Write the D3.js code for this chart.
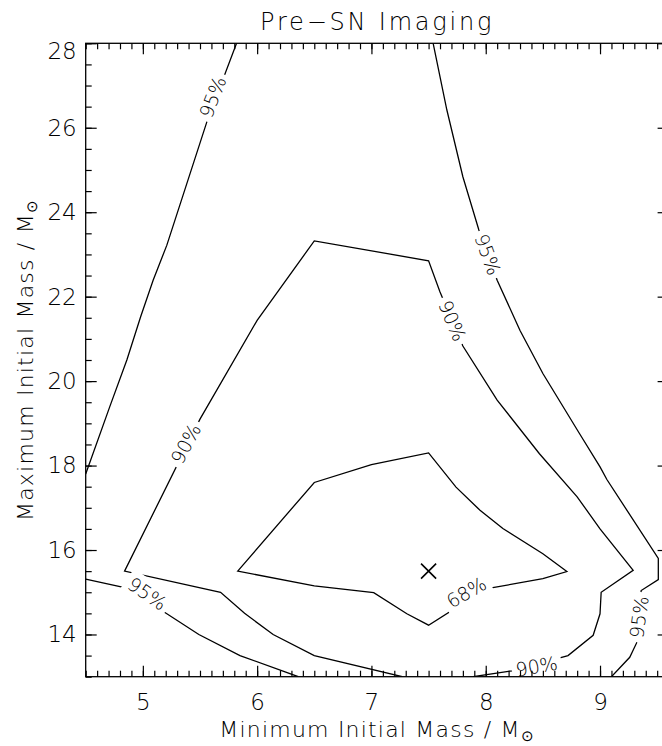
<!DOCTYPE html>
<html>
<head>
<meta charset="utf-8">
<script src="https://cdn.jsdelivr.net/npm/d3@7"></script>
<style>
  body { margin: 0; background: #fff; }
  text { font-family: "DejaVu Sans", sans-serif; font-weight: 300; fill: #000; }
</style>
</head>
<body>
<script>
// axis ranges and ticks
var xDomain = [4.5, 9.6];
var yDomain = [13, 28];
var xMajor = [5, 6, 7, 8, 9];
var yMajor = [14, 16, 18, 20, 22, 24, 26, 28];

// best fit marker
var bestFit = [7.5, 15.5];

// confidence contours, [min mass, max mass]
var contour68 = [[5.83, 15.5], [6.5, 17.6], [7.0, 18.02], [7.5, 18.3], [7.74, 17.49], [7.95, 16.94],
    [8.15, 16.51], [8.5, 15.91], [8.71, 15.49], [8.5, 15.32], [8.0, 15.08], [7.5, 14.22],
    [7.31, 14.49], [7.02, 14.99], [6.5, 15.15]];

var contour90 = [[7.27, 13.0], [6.5, 13.5], [6.14, 14.0], [5.89, 14.5], [5.68, 15.0], [4.84, 15.5],
    [5.5, 19.1], [6.0, 21.44], [6.5, 23.32], [7.5, 22.85], [7.6, 22.11], [7.8, 20.83], [8.1, 19.55],
    [8.47, 18.28], [8.8, 17.26], [9.0, 16.5], [9.29, 15.52], [9.01, 15.0], [9.0, 14.49], [8.94, 13.98],
    [8.72, 13.5], [8.23, 13.14], [7.89, 13.0]];

var contour95Left = [[4.5, 17.8], [4.71, 19.39], [4.86, 20.5], [4.98, 21.52], [5.09, 22.39],
    [5.21, 23.22], [5.56, 26.14], [5.82, 28.0]];

var contour95Right = [[7.54, 28.0], [7.66, 26.42], [7.8, 24.84], [7.94, 23.58], [8.1, 22.39],
    [8.3, 21.2], [8.5, 20.18], [8.82, 18.76], [9.0, 17.97], [9.06, 17.67], [9.51, 15.8], [9.51, 15.3],
    [9.36, 15.04], [9.32, 13.8], [9.26, 13.46], [9.1, 13.0]];

var contour95Low = [[4.5, 15.31], [4.84, 15.11], [5.0, 14.85], [5.21, 14.49], [5.49, 14.0],
    [5.85, 13.5], [6.36, 13.0]];

// contour labels: text, position, angle
var labelText = ['68%', '90%', '90%', '90%', '95%', '95%', '95%', '95%'];
var labelPos = [[7.83, 15.0], [5.375, 18.52], [7.71, 21.43], [8.445, 13.25], [5.61, 26.73], [8.02, 23.0], [5.04, 14.97], [9.34, 14.41]];
var labelAngle = [-30, -62, 67, -10, -69, 70, 35, -82];

var width = 662, height = 746;
var plotLeft = 85.7, plotRight = 668.6, plotTop = 43.3, plotBottom = 676.7;

var svg = d3.select('body').append('svg')
    .attr('width', width)
    .attr('height', height);

var x = d3.scaleLinear().domain(xDomain).range([plotLeft, plotRight]);
var y = d3.scaleLinear().domain(yDomain).range([plotBottom, plotTop]);

svg.append('clipPath').attr('id', 'plotclip')
    .append('rect')
    .attr('x', plotLeft).attr('y', plotTop)
    .attr('width', plotRight - plotLeft).attr('height', plotBottom - plotTop);

var plot = svg.append('g').attr('clip-path', 'url(#plotclip)');

var line = d3.line()
    .x(d => x(d[0]))
    .y(d => y(d[1]));

var closedLine = d3.line()
    .x(d => x(d[0]))
    .y(d => y(d[1]))
    .curve(d3.curveLinearClosed);

plot.append('path').attr('d', closedLine(contour68));
[contour90, contour95Left, contour95Right, contour95Low].forEach(c => {
    plot.append('path').attr('d', line(c));
});
plot.selectAll('path')
    .attr('fill', 'none')
    .attr('stroke', '#000')
    .attr('stroke-width', 1.3);

// labels break the line with a white box behind them
labelText.forEach((t, i) => {
    var g = plot.append('g')
        .attr('transform', 'translate(' + x(labelPos[i][0]) + ',' + y(labelPos[i][1]) + ') rotate(' + labelAngle[i] + ')');
    var bg = g.append('rect').attr('fill', '#fff');
    var txt = g.append('text')
        .attr('text-anchor', 'middle')
        .attr('dominant-baseline', 'central')
        .style('font-size', '19px')
        .text(t);
    var bb = txt.node().getBBox();
    bg.attr('x', bb.x - 4).attr('y', -13)
        .attr('width', bb.width + 8).attr('height', 26);
});

svg.append('path')
    .attr('d', d3.symbol(d3.symbolTimes, 150)())
    .attr('transform', 'translate(' + x(bestFit[0]) + ',' + y(bestFit[1]) + ')')
    .attr('fill', 'none')
    .attr('stroke', '#000')
    .attr('stroke-width', 1.6);

// axes, ticks pointing inward
var xMinor = d3.range(45, 97).map(v => v / 10);
var yMinor = d3.range(26, 57).map(v => v / 2);

function drawAxis(axis, pos, showLabels) {
    var g = svg.append('g').attr('transform', pos).call(axis);
    g.select('.domain').remove();
    g.selectAll('line').attr('stroke', '#000').attr('stroke-width', 1.2);
    if (!showLabels) g.selectAll('text').remove();
    return g;
}

drawAxis(d3.axisBottom(x).tickValues(xMinor).tickSize(-6).tickFormat(''), 'translate(0,' + plotBottom + ')', false);
drawAxis(d3.axisTop(x).tickValues(xMinor).tickSize(-6).tickFormat(''), 'translate(0,' + plotTop + ')', false);
drawAxis(d3.axisLeft(y).tickValues(yMinor).tickSize(-6).tickFormat(''), 'translate(' + plotLeft + ',0)', false);
drawAxis(d3.axisRight(y).tickValues(yMinor).tickSize(-6).tickFormat(''), 'translate(' + plotRight + ',0)', false);

var xAxis = drawAxis(d3.axisBottom(x).tickValues(xMajor).tickSize(-11).tickPadding(17).tickFormat(d3.format('d')),
    'translate(0,' + plotBottom + ')', true);
drawAxis(d3.axisTop(x).tickValues(xMajor).tickSize(-11).tickFormat(''), 'translate(0,' + plotTop + ')', false);
var yAxis = drawAxis(d3.axisLeft(y).tickValues(yMajor).tickSize(-11).tickPadding(9).tickFormat(d3.format('d')),
    'translate(' + plotLeft + ',0)', true);
drawAxis(d3.axisRight(y).tickValues(yMajor).tickSize(-11).tickFormat(''), 'translate(' + plotRight + ',0)', false);

[xAxis, yAxis].forEach(g => {
    g.attr('font-family', null).attr('font-size', null);
    g.selectAll('text')
        .style('font-size', '23px')
        .attr('fill', '#000');
});
// top label sits just below the corner
yAxis.selectAll('text').filter(d => d === 28).attr('dy', '0.68em');

svg.append('rect')
    .attr('x', plotLeft).attr('y', plotTop)
    .attr('width', plotRight - plotLeft).attr('height', plotBottom - plotTop)
    .attr('fill', 'none')
    .attr('stroke', '#000')
    .attr('stroke-width', 1.3);

var midX = (plotLeft + plotRight) / 2;
var midY = (plotTop + plotBottom) / 2;

svg.append('text')
    .attr('x', midX).attr('y', 30)
    .attr('text-anchor', 'middle')
    .style('font-size', '24px')
    .style('letter-spacing', '2.8px')
    .text('Pre\u2212SN Imaging');

function axisTitle(sel, label) {
    sel.attr('text-anchor', 'middle')
        .style('font-size', '22px')
        .style('letter-spacing', '1.2px');
    sel.append('tspan').text(label + ' / M');
    sel.append('tspan').attr('dy', 4).style('font-size', '15px').text('\u2299');
}

svg.append('text')
    .attr('x', midX).attr('y', 737)
    .call(axisTitle, 'Minimum Initial Mass');

svg.append('text')
    .attr('transform', 'translate(33,' + midY + ') rotate(-90)')
    .call(axisTitle, 'Maximum Initial Mass');
</script>
</body>
</html>
